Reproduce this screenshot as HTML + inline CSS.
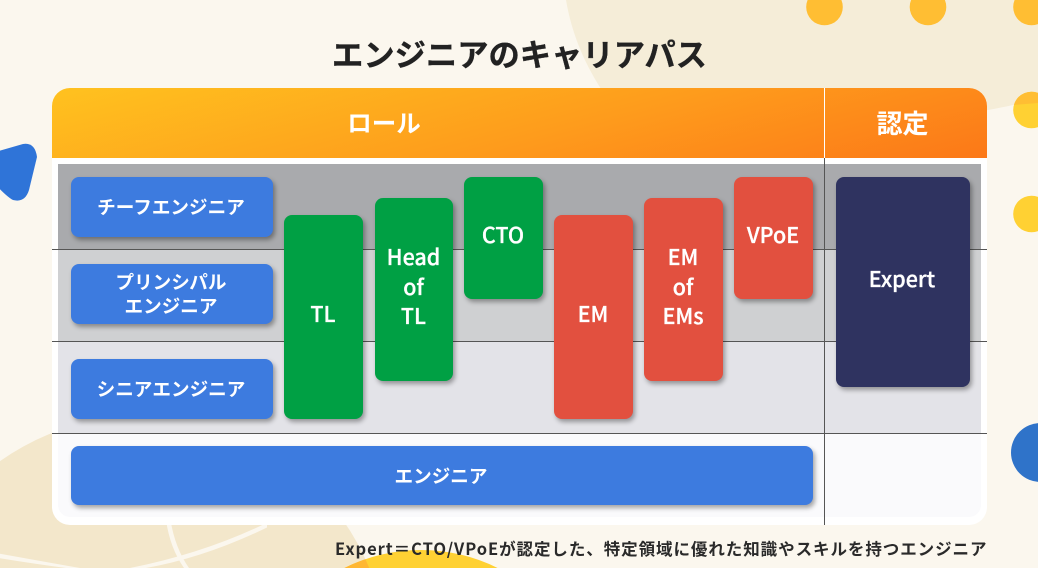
<!DOCTYPE html>
<html lang="ja"><head><meta charset="utf-8"><style>
html,body{margin:0;padding:0;width:1038px;height:568px;overflow:hidden}
body{position:relative;background:#fbf7ee;font-family:"Noto Sans CJK JP","Liberation Sans",sans-serif}
#root{position:absolute;left:0;top:0;width:1038px;height:568px;overflow:hidden}
svg.bg{position:absolute;left:0;top:0}
.a{position:absolute}
.card{left:52px;top:88px;width:935px;height:437px;background:#fff;border-radius:18px;overflow:hidden}
.hd{left:52px;top:88px;width:935px;height:70px;border-radius:18px 18px 0 0;background:linear-gradient(165deg,#ffc21f 0%,#fe9c1c 55%,#fc7818 100%)}
.hd span{position:absolute;top:0;height:70px;line-height:70px;color:#fff;font-weight:700;text-align:center}
.b{position:absolute;display:flex;align-items:center;justify-content:center;text-align:center;color:#fff;font-weight:700;border-radius:8px;box-shadow:2px 3px 5px rgba(0,0,0,.35);box-sizing:border-box}
.blue{background:#3d7bdf;font-size:18.6px;line-height:24px;padding-right:2px}
.g,.r,.n{font-weight:500;-webkit-text-stroke:.3px #fff}
.g{background:#00a044;font-size:21.5px;line-height:29.7px;padding-bottom:6px;padding-right:1px}
.r{background:#e2503f;font-size:21.5px;line-height:29.7px;padding-bottom:6px;padding-right:1px}
.n{background:#2f3360;font-size:21.5px;padding-bottom:8px;padding-right:2px}
.l{position:absolute;background:#555}
</style></head><body><div id="root">
<svg class="bg" width="1038" height="568" viewBox="0 0 1038 568">
<defs>
<clipPath id="blob"><path d="M566,0C572,35 585,65 605,95C640,150 900,130 1013,105L1038,103V0Z"/></clipPath>
<clipPath id="ell"><path d="M0,568V461.1A246,246 0 0 1 369.3,568Z"/></clipPath>
</defs>
<path d="M566,0C572,35 585,65 605,95C640,150 900,130 1013,105L1038,103V0Z" fill="#f5edd8"/>
<path d="M0,568V461.1A246,246 0 0 1 369.3,568Z" fill="#f3e7cb"/>
<path d="M344.4,568A172,172 0 0 1 497.6,568Z" fill="#ffd133"/>
<path d="M344.4,568A172,172 0 0 1 497.6,568Z" fill="#ffb733" clip-path="url(#ell)"/>
<path d="M0,553.7Q35,560 80,568L66,568Q35,564 0,558.3Z" fill="#fbf7ee"/>
<path d="M130,568Q205,553 267,522.7L267,527.5Q205,557.5 146,568Z" fill="#fbf7ee"/>
<path d="M166,520Q170,548 184,568L189,568Q175,548 170.5,520Z" fill="#fbf7ee"/>
<circle cx="824.5" cy="7" r="18.3" fill="#ffbe33"/>
<circle cx="928" cy="7" r="18.3" fill="#ffbe33"/>
<circle cx="1031.5" cy="7" r="18.3" fill="#ffbe33"/>
<circle cx="1031.5" cy="110" r="18.3" fill="#ffd133"/>
<circle cx="1031.5" cy="110" r="18.3" fill="#ffbe33" clip-path="url(#blob)"/>
<circle cx="1031.5" cy="214" r="18.3" fill="#ffd133"/>
<circle cx="1040.5" cy="452.5" r="29.5" fill="#2f73c9"/>
<path d="M-5,152L23,144Q35,142 37,157L29,190Q25,203 13,200Q7,197 -5,184Z" fill="#2f74d8"/>
</svg>
<div class="a" style="left:1px;top:31px;width:1037px;text-align:center;font-size:31.3px;line-height:46px;font-weight:700;color:#222;-webkit-text-stroke:.3px #222">エンジニアのキャリアパス</div>
<div class="a card"></div>
<div class="a" style="left:58px;top:164px;width:923px;height:86px;background:#a9aaad"></div>
<div class="a" style="left:58px;top:250px;width:923px;height:92px;background:#cfd0d2"></div>
<div class="a" style="left:58px;top:342px;width:923px;height:92px;background:#e3e3e8"></div>
<div class="a" style="left:58px;top:434px;width:923px;height:83px;background:#fafafc;border-radius:0 0 12px 12px"></div>
<div class="a hd"><span style="left:0;width:664px;font-size:24.5px">ロール</span><span style="left:772px;width:157px;font-size:26px">認定</span></div>
<div class="l" style="left:824px;top:88px;width:1px;height:70px;background:#fff"></div>
<div class="l" style="left:824px;top:158px;width:1px;height:367px"></div>
<div class="l" style="left:52px;top:249px;width:935px;height:1px"></div>
<div class="l" style="left:52px;top:341px;width:935px;height:1px"></div>
<div class="l" style="left:52px;top:433px;width:935px;height:1px"></div>
<div class="b blue" style="left:71px;top:177px;width:202px;height:60px">チーフエンジニア</div>
<div class="b blue" style="left:71px;top:264px;width:202px;height:60px">プリンシパル<br>エンジニア</div>
<div class="b blue" style="left:71px;top:359px;width:202px;height:60px">シニアエンジニア</div>
<div class="b blue" style="left:71px;top:446px;width:742px;height:59px">エンジニア</div>
<div class="b g" style="left:284px;top:215px;width:79px;height:204px">TL</div>
<div class="b g" style="left:375px;top:198px;width:78px;height:183px">Head<br>of<br>TL</div>
<div class="b g" style="left:464px;top:177px;width:79px;height:122px">CTO</div>
<div class="b r" style="left:554px;top:215px;width:79px;height:204px">EM</div>
<div class="b r" style="left:644px;top:198px;width:79px;height:183px">EM<br>of<br>EMs</div>
<div class="b r" style="left:734px;top:177px;width:79px;height:122px">VPoE</div>
<div class="b n" style="left:836px;top:177px;width:134px;height:210px">Expert</div>
<div class="a" style="left:335px;top:536px;font-size:16.5px;line-height:24px;font-weight:700;color:#2a2a2a;white-space:nowrap;letter-spacing:.94px">Expert＝CTO/VPoEが認定した、特定領域に優れた知識やスキルを持つエンジニア</div>
</div></body></html>
